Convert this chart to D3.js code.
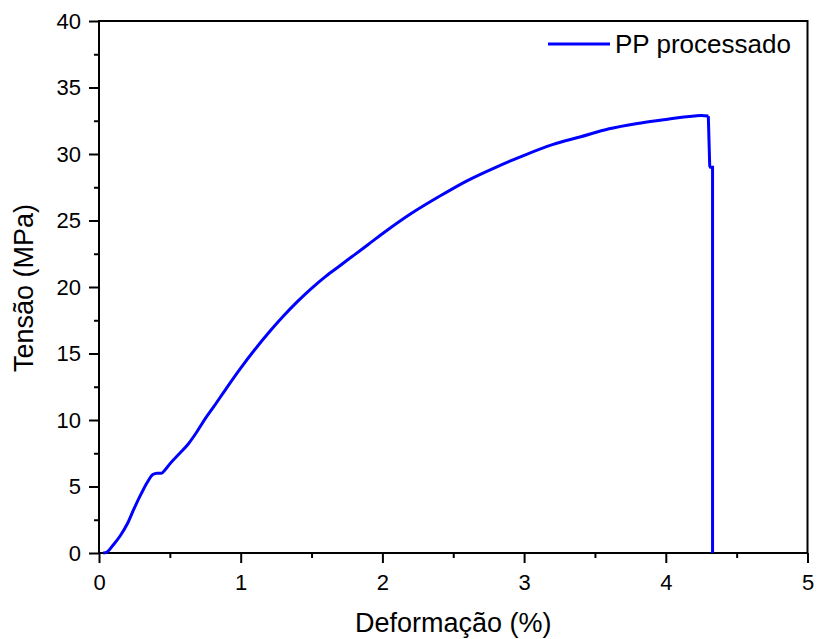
<!DOCTYPE html>
<html>
<head>
<meta charset="utf-8">
<script src="https://cdn.jsdelivr.net/npm/d3@7"></script>
<style>
  body { margin: 0; background: #fff; }
  text { font-family: "Liberation Sans", Arial, sans-serif; fill: #000; }
</style>
</head>
<body>
<div id="chart"></div>
<script>
// curva tensão x deformação
var deformacao = [0.03, 0.06, 0.1, 0.15, 0.2, 0.25, 0.3, 0.34, 0.38, 0.41, 0.44, 0.47, 0.5, 0.57, 0.63, 0.69, 0.75, 0.81, 0.9,
    1.0, 1.1, 1.2, 1.3, 1.4, 1.5, 1.6, 1.7, 1.8, 1.9, 2.0, 2.2, 2.4, 2.6, 2.8, 3.0, 3.2, 3.4, 3.6, 3.8, 4.0, 4.1, 4.2, 4.25,
    4.3, 4.31, 4.315, 4.33, 4.33];
var tensao = [0, 0.1, 0.6, 1.3, 2.2, 3.4, 4.5, 5.3, 5.9, 6.0, 6.0, 6.3, 6.7, 7.5, 8.2, 9.1, 10.1, 11.0, 12.4,
    13.9, 15.3, 16.6, 17.8, 18.9, 19.9, 20.8, 21.6, 22.4, 23.2, 24.0, 25.5, 26.8, 28.0, 29.0, 29.9, 30.7, 31.3, 31.9, 32.3, 32.6, 32.75, 32.85, 32.9,
    32.85, 29.1, 29.0, 29.0, 0];
var xTicks = [0, 1, 2, 3, 4, 5];
var yTicks = [0, 5, 10, 15, 20, 25, 30, 35, 40];
var serieNome = "PP processado";

var margin = { top: 21, right: 9.5, bottom: 86, left: 99 },
    width = 817 - margin.left - margin.right,
    height = 639 - margin.top - margin.bottom;

var svg = d3.select("#chart")
    .append("svg")
    .attr("width", 817)
    .attr("height", 639)
    .append("g")
    .attr("transform", "translate(" + margin.left + "," + margin.top + ")");

var x = d3.scaleLinear().domain([0, 5]).range([0, width]);
var y = d3.scaleLinear().domain([0, 40]).range([height, 0]);

// ticks menores
var xMinor = d3.range(0.5, 5, 1);
var yMinor = d3.range(2.5, 40, 5);

svg.append("g")
    .attr("transform", "translate(0," + height + ")")
    .call(d3.axisBottom(x).tickValues(xMinor).tickSize(5).tickFormat(""))
    .call(function (g) { g.select(".domain").remove(); })
    .selectAll("line").attr("stroke-width", 2);

svg.append("g")
    .call(d3.axisLeft(y).tickValues(yMinor).tickSize(5).tickFormat(""))
    .call(function (g) { g.select(".domain").remove(); })
    .selectAll("line").attr("stroke-width", 2);

var xAxis = svg.append("g")
    .attr("transform", "translate(0," + height + ")")
    .call(d3.axisBottom(x).tickValues(xTicks).tickSize(10).tickPadding(11).tickFormat(d3.format("d")));
xAxis.select(".domain").remove();
xAxis.selectAll("line").attr("stroke-width", 2);
xAxis.selectAll("text").style("font-size", "22px");

var yAxis = svg.append("g")
    .call(d3.axisLeft(y).tickValues(yTicks).tickSize(10).tickPadding(8).tickFormat(d3.format("d")));
yAxis.select(".domain").remove();
yAxis.selectAll("line").attr("stroke-width", 2);
yAxis.selectAll("text").style("font-size", "22px");

// moldura
svg.append("rect")
    .attr("width", width)
    .attr("height", height)
    .attr("fill", "none")
    .attr("stroke", "black")
    .attr("stroke-width", 2);

var dados = deformacao.map(function (d, i) { return { x: d, y: tensao[i] }; });
var fim = 43; // ruptura: daqui em diante segmentos retos

svg.append("path")
    .datum(dados.slice(0, fim + 1))
    .attr("d", d3.line()
        .curve(d3.curveMonotoneX)
        .x(function (d) { return x(d.x); })
        .y(function (d) { return y(d.y); }))
    .attr("stroke", "#0000ff")
    .style("stroke-width", 3)
    .style("fill", "none");

svg.append("path")
    .datum(dados.slice(fim))
    .attr("d", d3.line()
        .x(function (d) { return x(d.x); })
        .y(function (d) { return y(d.y); }))
    .attr("stroke", "#0000ff")
    .style("stroke-width", 3)
    .style("fill", "none");

// legenda
svg.append("line")
    .attr("x1", 548 - margin.left).attr("x2", 610 - margin.left)
    .attr("y1", 44 - margin.top).attr("y2", 44 - margin.top)
    .attr("stroke", "#0000ff")
    .style("stroke-width", 3);
svg.append("text")
    .attr("x", 615 - margin.left)
    .attr("y", 53 - margin.top)
    .style("font-size", "26px")
    .text(serieNome);

// títulos
svg.append("text")
    .attr("x", width / 2)
    .attr("y", 632 - margin.top)
    .attr("text-anchor", "middle")
    .style("font-size", "27px")
    .text("Deformação (%)");

svg.append("text")
    .attr("transform", "translate(" + (33 - margin.left) + "," + (288 - margin.top) + ") rotate(-90)")
    .attr("text-anchor", "middle")
    .style("font-size", "27px")
    .text("Tensão (MPa)");
</script>
</body>
</html>
